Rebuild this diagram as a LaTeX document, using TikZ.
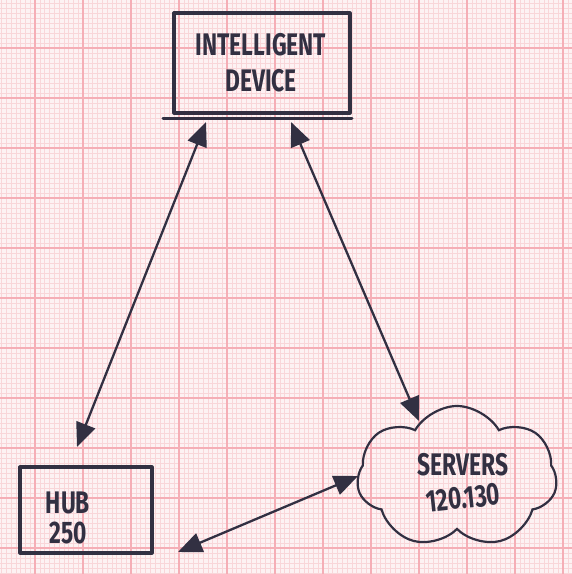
\documentclass[tikz,border=0pt]{standalone}
\usepackage{fontspec}
\setmainfont{Fira Sans}
\usepackage{graphicx}
\usetikzlibrary{arrows.meta,shapes.symbols}
\definecolor{paper}{RGB}{253,242,243}
\definecolor{minorg}{RGB}{249,214,217}
\definecolor{majorg}{RGB}{245,174,182}
\definecolor{ink}{RGB}{50,48,66}
\tikzset{
  minorline/.style={minorg, line width=0.5pt},
  majorline/.style={majorg, line width=1.2pt},
  inkbox/.style={draw=ink, line width=3.2pt, line join=round, line cap=round, inner sep=0pt},
  link/.style={draw=ink, line width=2.3pt, line cap=round,
    {Triangle[length=24pt,width=20pt]}-{Triangle[length=24pt,width=20pt]}},
  hand/.style={text=ink, font=\fontsize{24}{26}\selectfont\bfseries, align=center}
}
\newcommand{\tallt}[1]{\scalebox{0.95}[1.3]{#1}}
\begin{document}
\begin{tikzpicture}[x=1pt,y=-1pt]
  \fill[paper] (0,0) rectangle (572,574);
  \useasboundingbox (0,0) rectangle (572,574);
  % minor grid
  \foreach \i in {-8,...,113} {\draw[minorline] ({35+4.8*\i},0) -- ++(0,574);}
  \foreach \j in {-10,...,106} {\draw[minorline] (0,{48+5*\j}) -- ++(572,0);}
  % major grid
  \foreach \i in {-1,...,11} {\draw[majorline] ({35+48*\i},0) -- ++(0,574);}
  \foreach \j in {-1,...,10} {\draw[majorline] (0,{48+50*\j}) -- ++(572,0);}

  % nodes
  \node[inkbox, minimum width=176pt, minimum height=100pt] (dev) at (262,63) {};
  \node[hand] (devtxt) at (261,63) {\tallt{INTELLIGENT}\\[10pt]\tallt{DEVICE}};
  \coordinate (ulA) at (163,118);
  \coordinate (ulB) at (352,118);
  \draw[draw=ink, line width=3pt, line cap=round] (ulA) -- (ulB);

  \node[inkbox, minimum width=132pt, minimum height=86pt] (hub) at (86,510) {};
  \node[hand] (hubtxt) at (68,518) {\tallt{HUB}\\[4pt]\tallt{250}};

  \node[cloud, draw=ink, line width=2.2pt, cloud puffs=7, cloud puff arc=120,
        aspect=1.45, minimum width=200pt, minimum height=142pt, inner sep=0pt] (srv) at (457,477) {};
  \node[hand] (srvtxt) at (463,483) {\tallt{SERVERS}\\[6pt]\rotatebox{6}{\tallt{120.130}}};

  % connector end points
  \coordinate (a1) at (206,122);
  \coordinate (a2) at (77,447);
  \coordinate (b1) at (291,122);
  \coordinate (b2) at (419,421);
  \coordinate (c1) at (178,552);
  \coordinate (c2) at (358,476);

  \draw[link] (a1) -- (a2);
  \draw[link] (b1) -- (b2);
  \draw[link] (c1) -- (c2);
\end{tikzpicture}
\end{document}
